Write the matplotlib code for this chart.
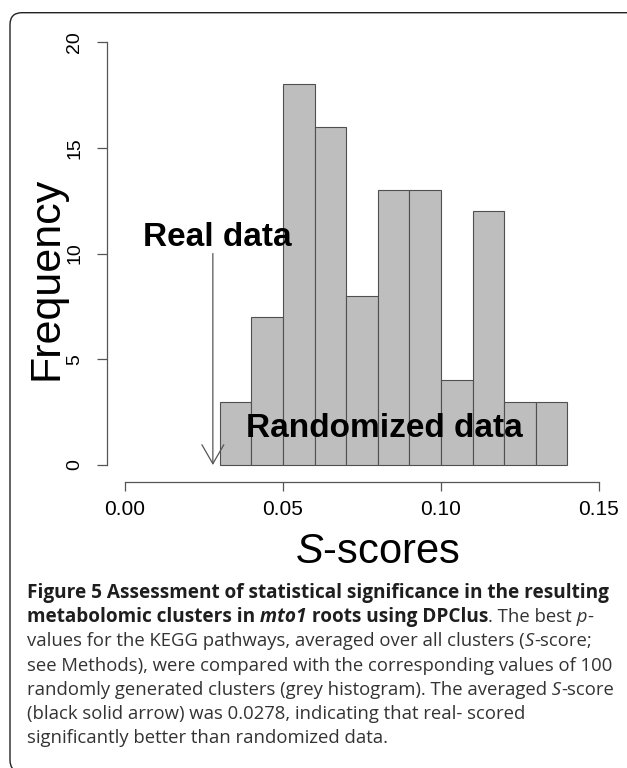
import numpy as np
import matplotlib
matplotlib.use("Agg")
import matplotlib.pyplot as plt
from matplotlib.patches import FancyBboxPatch
from matplotlib.transforms import IdentityTransform

# histogram of the randomized S-scores (100 clusters)
bin_edges = [0.03, 0.04, 0.05, 0.06, 0.07, 0.08, 0.09, 0.10, 0.11, 0.12, 0.13, 0.14]
counts = [3, 7, 18, 16, 8, 13, 13, 4, 12, 3, 3]
real_score = 0.0278   # averaged S-score of the real data
arrow_top = 10

x_ticks = [0.00, 0.05, 0.10, 0.15]
x_tick_labels = ["0.00", "0.05", "0.10", "0.15"]
y_ticks = [0, 5, 10, 15, 20]

caption = [
    [("Figure 5 Assessment of statistical significance in the resulting", "b")],
    [("metabolomic clusters in", "b"), (" mto1", "bi"), (" roots using DPClus", "b"),
     (". The best", "r"), (" p", "i"), ("-", "r")],
    [("values for the KEGG pathways, averaged over all clusters (", "r"), ("S", "i"),
     ("-score;", "r")],
    [("see Methods), were compared with the corresponding values of 100", "r")],
    [("randomly generated clusters (grey histogram). The averaged", "r"), (" S", "i"),
     ("-score", "r")],
    [("(black solid arrow) was 0.0278, indicating that real- scored", "r")],
    [("significantly better than randomized data.", "r")],
]

plt.rcParams["font.family"] = "Liberation Sans"
plt.rcParams["mathtext.fontset"] = "custom"
plt.rcParams["mathtext.rm"] = "Liberation Sans"
plt.rcParams["mathtext.it"] = "Liberation Sans:italic"

W, H = 627, 768
fig = plt.figure(figsize=(W / 100, H / 100), dpi=100)

# axes placed so that R-like outer axes fall where they are in the original
ax = fig.add_axes([107 / W, (H - 482) / H, 510 / W, (482 - 37.8) / H])
ax.set_xlim(-0.0057, 0.1557)
ax.set_ylim(-0.804, 20.2)

axis_col = "#555555"
ax.bar(bin_edges[:-1], counts, width=np.diff(bin_edges), align="edge",
       color="#bebebe", edgecolor="#505050", linewidth=0.8, zorder=2)

for s in ["top", "right"]:
    ax.spines[s].set_visible(False)
ax.spines["left"].set_bounds(0, 20)
ax.spines["bottom"].set_bounds(0, 0.15)
for s in ["left", "bottom"]:
    ax.spines[s].set_color(axis_col)
    ax.spines[s].set_linewidth(0.9)

ax.set_xticks(x_ticks)
ax.set_xticklabels(x_tick_labels, fontsize=15)
ax.set_yticks(y_ticks)
ax.set_yticklabels([str(v) for v in y_ticks], rotation=90, va="center", fontsize=14)
ax.tick_params(axis="x", length=6.5, width=0.9, color=axis_col, pad=6.5)
ax.tick_params(axis="y", length=7.2, width=0.9, color=axis_col, pad=10)

# arrow for the real data
ax.annotate("", xy=(real_score, 0), xytext=(real_score, arrow_top),
            arrowprops=dict(arrowstyle="->,head_length=13.7,head_width=7.9",
                            mutation_scale=1, color=axis_col, lw=0.9,
                            shrinkA=0, shrinkB=0), zorder=3)

ax.text(0.0057, 10.35, "Real data", fontsize=24, fontweight="bold",
        ha="left", va="baseline", zorder=4)
ax.text(0.0383, 1.32, "Randomized data", fontsize=24, fontweight="bold",
        ha="left", va="baseline", zorder=4)

pix = IdentityTransform()
fig.text(47, H - 278, "Frequency", fontsize=31, rotation=90,
         ha="center", va="center", transform=pix)
fig.text(377, H - 563, r"$\mathit{S}$-scores", fontsize=30,
         ha="center", va="baseline", transform=pix)

# rounded frame around the whole figure
frame = FancyBboxPatch((10, H - 772), 640, 772 - 12.7,
                       boxstyle="round,pad=0,rounding_size=12",
                       transform=pix, facecolor="none", edgecolor="#222222",
                       linewidth=1.0, clip_on=False)
fig.patches.append(frame)

# caption, written run by run so bold / italic parts can be mixed
styles = {
    "r": dict(fontweight="normal", fontstyle="normal", color="#333333", fontsize=13.3),
    "i": dict(fontweight="normal", fontstyle="italic", color="#333333", fontsize=13.3),
    "b": dict(fontweight="bold", fontstyle="normal", color="#1e1e1e", fontsize=13.7),
    "bi": dict(fontweight="bold", fontstyle="italic", color="#1e1e1e", fontsize=13.7),
}
renderer = fig.canvas.get_renderer()
for i, line in enumerate(caption):
    x = 27
    y = H - (598 + 24.2 * i)
    for txt, st in line:
        t = fig.text(x, y, txt, family="Open Sans", ha="left",
                     va="baseline", transform=pix, **styles[st])
        x = t.get_window_extent(renderer=renderer).x1

fig.savefig("out.png", dpi=100)
